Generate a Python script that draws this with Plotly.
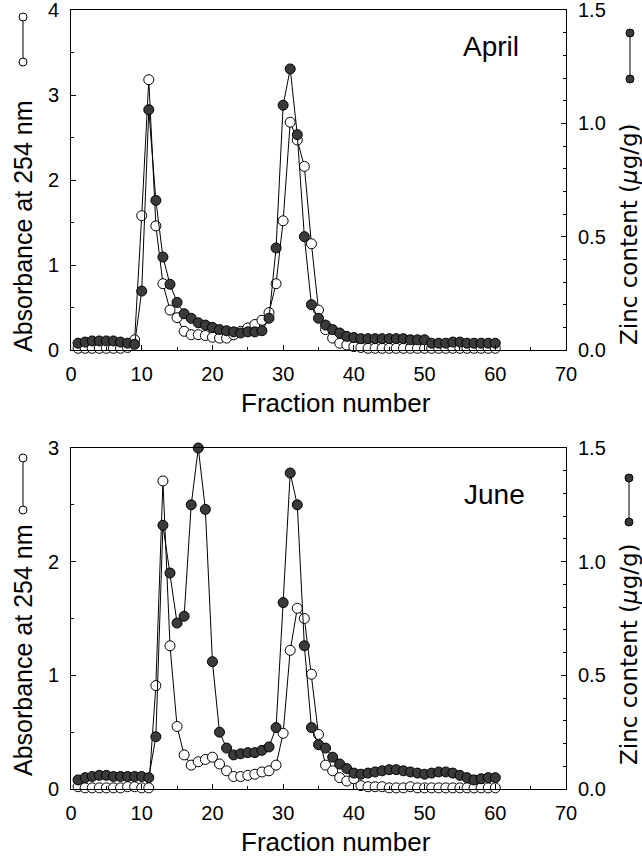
import plotly.graph_objects as go
from plotly.subplots import make_subplots

fractions = list(range(1, 61))

april_absorbance = [0.02, 0.02, 0.02, 0.02, 0.02, 0.02, 0.02, 0.03, 0.12, 1.58,
                    3.18, 1.46, 0.78, 0.47, 0.38, 0.22, 0.18, 0.18, 0.17, 0.15,
                    0.14, 0.14, 0.18, 0.22, 0.26, 0.30, 0.35, 0.44, 0.78, 1.52,
                    2.68, 2.47, 2.16, 1.25, 0.47, 0.24, 0.14, 0.08, 0.06, 0.04,
                    0.03, 0.02, 0.02, 0.02, 0.02, 0.02, 0.02, 0.02, 0.02, 0.02,
                    0.02, 0.02, 0.02, 0.02, 0.02, 0.02, 0.02, 0.02, 0.02, 0.02]

april_zinc = [0.03, 0.035, 0.04, 0.04, 0.04, 0.04, 0.035, 0.03, 0.025, 0.26,
              1.06, 0.66, 0.41, 0.29, 0.21, 0.16, 0.14, 0.12, 0.11, 0.10,
              0.09, 0.085, 0.08, 0.075, 0.08, 0.08, 0.085, 0.14, 0.45, 1.08,
              1.24, 0.95, 0.50, 0.20, 0.14, 0.11, 0.09, 0.075, 0.06, 0.055,
              0.05, 0.05, 0.05, 0.05, 0.05, 0.05, 0.05, 0.045, 0.045, 0.045,
              0.03, 0.03, 0.03, 0.035, 0.035, 0.03, 0.03, 0.03, 0.03, 0.03]

june_absorbance = [0.02, 0.01, 0.01, 0.01, 0.01, 0.01, 0.01, 0.02, 0.02, 0.01,
                   0.01, 0.91, 2.71, 1.26, 0.55, 0.30, 0.21, 0.24, 0.26, 0.28,
                   0.22, 0.16, 0.11, 0.11, 0.12, 0.13, 0.15, 0.16, 0.21, 0.49,
                   1.22, 1.59, 1.50, 1.01, 0.48, 0.21, 0.16, 0.10, 0.07, 0.09,
                   0.03, 0.02, 0.02, 0.02, 0.01, 0.01, 0.01, 0.02, 0.01, 0.01,
                   0.01, 0.01, 0.01, 0.01, 0.01, 0.01, 0.01, 0.01, 0.01, 0.01]

june_zinc = [0.04, 0.05, 0.055, 0.06, 0.06, 0.055, 0.055, 0.055, 0.055, 0.055,
             0.05, 0.23, 1.16, 0.95, 0.73, 0.76, 1.25, 1.50, 1.23, 0.56,
             0.25, 0.18, 0.15, 0.155, 0.16, 0.16, 0.17, 0.185, 0.27, 0.82,
             1.39, 1.25, 0.63, 0.27, 0.195, 0.18, 0.14, 0.11, 0.09, 0.07,
             0.065, 0.07, 0.075, 0.08, 0.085, 0.085, 0.08, 0.075, 0.07, 0.065,
             0.07, 0.075, 0.075, 0.07, 0.06, 0.05, 0.04, 0.045, 0.05, 0.05]

x_ticks = [0, 10, 20, 30, 40, 50, 60, 70]
panel_labels = ["April", "June"]
left_title = "Absorbance at 254 nm"
right_title = "Zinc content (<i>μ</i>g/g)"
x_title = "Fraction number"

FONT = "Liberation Sans, Arial, Helvetica, sans-serif"
WIDE_FONT = "DejaVu Sans, Liberation Sans, sans-serif"
W, H = 642, 856
# plot area in pixels: x 71..566, y 10..789
L, T = 71, 10
R = W - 566
B = H - 789
PW, PH = W - L - R, H - T - B


def px(xs):
    return (xs - L) / PW


def py(ys):
    return (H - B - ys) / PH


fig = make_subplots(rows=2, cols=1,
                    specs=[[{"secondary_y": True}], [{"secondary_y": True}]])

open_style = dict(mode="lines+markers", cliponaxis=False,
                  line=dict(color="black", width=1),
                  marker=dict(symbol="circle", size=10, color="white",
                              line=dict(color="black", width=1)))
filled_style = dict(mode="lines+markers", cliponaxis=False,
                    line=dict(color="black", width=1),
                    marker=dict(symbol="circle", size=10, color="#3a3a3a",
                                line=dict(color="black", width=1)))

fig.add_trace(go.Scatter(x=fractions, y=april_absorbance, name="April absorbance", **open_style),
              row=1, col=1, secondary_y=False)
fig.add_trace(go.Scatter(x=fractions, y=april_zinc, name="April zinc", **filled_style),
              row=1, col=1, secondary_y=True)
fig.add_trace(go.Scatter(x=fractions, y=june_absorbance, name="June absorbance", **open_style),
              row=2, col=1, secondary_y=False)
fig.add_trace(go.Scatter(x=fractions, y=june_zinc, name="June zinc", **filled_style),
              row=2, col=1, secondary_y=True)

top_dom = [py(350), 1.0]
bot_dom = [0.0, py(448)]

xcommon = dict(range=[0, 70], tickvals=x_ticks, ticks="inside", ticklen=5,
               tickcolor="black", minor=dict(dtick=5, tick0=0, ticks="inside", ticklen=3,
                                             tickcolor="black"),
               showline=True, linecolor="black", linewidth=1, mirror=True,
               showgrid=False, zeroline=False, automargin=False,
               ticklabelstandoff=6, ticklabeloverflow="allow",
               tickfont=dict(family=FONT, size=20, color="black"), domain=[0, 1])
ycommon = dict(ticks="inside", ticklen=5, tickcolor="black",
               showline=True, linecolor="black", linewidth=1,
               showgrid=False, zeroline=False, automargin=False,
               ticklabeloverflow="allow",
               tickfont=dict(family=FONT, size=20, color="black"),
               ticklabelstandoff=7)

fig.update_layout(
    xaxis=dict(**xcommon),
    xaxis2=dict(**xcommon),
    yaxis=dict(**ycommon, range=[0, 4], dtick=1, tick0=0,
               minor=dict(dtick=0.5, ticks="inside", ticklen=3, tickcolor="black"),
               domain=top_dom),
    yaxis2=dict(**ycommon, range=[0, 1.5], dtick=0.5, tick0=0, tickformat=".1f",
                minor=dict(dtick=0.1, ticks="inside", ticklen=3, tickcolor="black"),
                domain=top_dom),
    yaxis3=dict(**ycommon, range=[0, 3], dtick=1, tick0=0,
                minor=dict(dtick=0.5, ticks="inside", ticklen=3, tickcolor="black"),
                domain=bot_dom),
    yaxis4=dict(**ycommon, range=[0, 1.5], dtick=0.5, tick0=0, tickformat=".1f",
                minor=dict(dtick=0.1, ticks="inside", ticklen=3, tickcolor="black"),
                domain=bot_dom),
)

annotations = []
shapes = []


def ann(text, xs, ys, size, angle=0, family=FONT):
    annotations.append(dict(text=text, x=px(xs), y=py(ys), xref="paper", yref="paper",
                            xanchor="center", yanchor="middle", showarrow=False,
                            textangle=angle,
                            font=dict(family=family, size=size, color="black")))


def glyph(xs, y1s, y2s, filled):
    shapes.append(dict(type="line", xref="paper", yref="paper",
                       x0=px(xs), x1=px(xs), y0=py(y1s), y1=py(y2s),
                       line=dict(color="black", width=1)))
    r = 4
    for yc in (y1s, y2s):
        shapes.append(dict(type="circle", xref="paper", yref="paper",
                           x0=px(xs - r), x1=px(xs + r), y0=py(yc + r), y1=py(yc - r),
                           fillcolor="#3a3a3a" if filled else "white",
                           line=dict(color="black", width=1)))


# top panel
ann(panel_labels[0], 491, 46, 28)
ann(left_title, 23, 226, 25, -90)
ann(right_title, 629, 234, 23, -90, WIDE_FONT)
ann(x_title, 336, 403, 26)
glyph(23, 17, 62, False)
glyph(630, 33, 79, True)

# bottom panel
ann(panel_labels[1], 494, 494, 28)
ann(left_title, 23, 650, 25, -90)
ann(right_title, 629, 654, 23, -90, WIDE_FONT)
ann(x_title, 336, 842, 26)
glyph(23, 458, 510, False)
glyph(629, 478, 522, True)

fig.update_layout(
    width=W, height=H,
    margin=dict(l=L, r=R, t=T, b=B, pad=0, autoexpand=False),
    paper_bgcolor="white", plot_bgcolor="white",
    showlegend=False,
    annotations=annotations,
    shapes=shapes,
    font=dict(family=FONT, color="black"),
)

fig.write_html("out.html", config={"displayModeBar": False},
               post_script="document.body.style.margin='0px';")
